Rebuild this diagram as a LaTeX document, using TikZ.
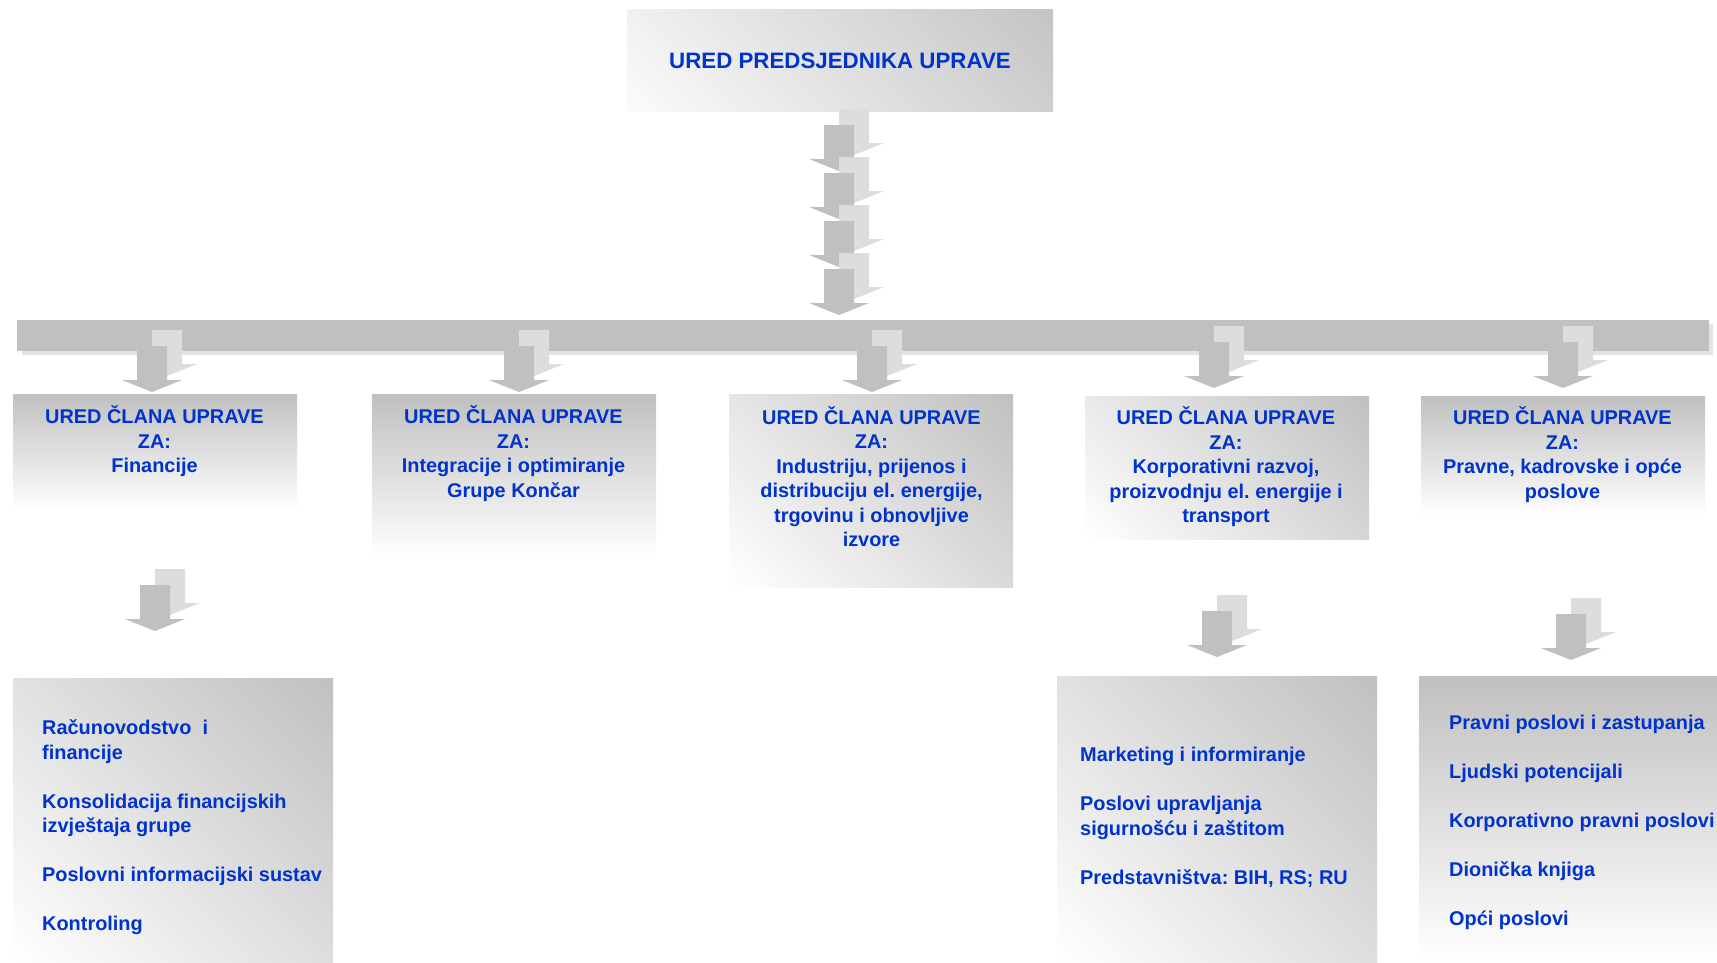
\documentclass[tikz,border=0pt]{standalone}
\usepackage{fontspec}
\setmainfont{Liberation Sans}
\usetikzlibrary{calc}
\frenchspacing
\definecolor{tblue}{HTML}{0033CC}
\definecolor{boxgray}{HTML}{C0C0C0}
\definecolor{arrdark}{HTML}{C0C0C0}
\definecolor{arrlight}{HTML}{DDDDDD}
\definecolor{bargray}{HTML}{C0C0C0}
\definecolor{barshadow}{HTML}{E3E3E3}
\begin{document}
\begin{tikzpicture}[x=1pt,y=-1pt,
  vgrad/.style={top color=boxgray, bottom color=white, draw=none, inner sep=0pt, anchor=north west},
  dgrad/.style={draw=none, inner sep=0pt, anchor=north west,
    path picture={\shade[transform canvas={rotate around={45:(path picture bounding box.center)}}, left color=white, right color=boxgray]
      ([shift={(-#1/2,-#1/2-4)}]path picture bounding box.center) rectangle ++(#1,#1+8);}},
  headtext/.style={text=tblue, font=\bfseries\fontsize{19.9}{24.5}\selectfont, align=center, anchor=base, inner sep=0pt},
  listtext/.style={text=tblue, font=\bfseries\fontsize{19.9}{24.5}\selectfont, align=left, anchor=base west, inner sep=0pt},
  blockarrow/.pic={
    \fill[arrlight] (15,-16) -- (-15,-28) -- (0,-28) -- (0,-62) -- (30,-62) -- (30,-28) -- (45,-28) -- cycle;
    \fill[arrdark] (0,0) -- (-30,-12) -- (-15,-12) -- (-15,-46) -- (15,-46) -- (15,-12) -- (30,-12) -- cycle;
  }]
\useasboundingbox (0,0) rectangle (1717,962);

% top box
\node[dgrad=373.4, minimum width=426pt, minimum height=102pt] (top) at (627,9) {};
\node[text=tblue, font=\bfseries\fontsize{22.3}{26}\selectfont, anchor=base, inner sep=0pt] (toptext) at (840,68) {URED PREDSJEDNIKA UPRAVE};

% stack of arrows below top box
\pic (s1) at (839,171) {blockarrow};
\pic (s2) at (839,219) {blockarrow};
\pic (s3) at (839,267) {blockarrow};
\pic (s4) at (839,315) {blockarrow};

% horizontal bar with shadow
\node[fill=barshadow, draw=none, inner sep=0pt, anchor=north west, minimum width=1691pt, minimum height=31pt] (barsh) at (22,324) {};
\node[fill=bargray, draw=none, inner sep=0pt, anchor=north west, minimum width=1692pt, minimum height=31pt] (bar) at (17,320) {};

% arrows from bar to boxes
\pic (a1) at (152,392) {blockarrow};
\pic (a2) at (519,392) {blockarrow};
\pic (a3) at (872,392) {blockarrow};
\pic (a4) at (1214,388) {blockarrow};
\pic (a5) at (1563,388) {blockarrow};

% member boxes
\node[vgrad, minimum width=284pt, minimum height=115pt] (b1) at (13,394) {};
\node[vgrad, minimum width=284pt, minimum height=164pt] (b2) at (372,394) {};
\node[dgrad=337.3, minimum width=284pt, minimum height=193pt] (b3) at (729,394) {};
\node[dgrad=302, minimum width=284pt, minimum height=143pt] (b4) at (1085,396) {};
\node[vgrad, minimum width=284pt, minimum height=119pt] (b5) at (1421,396) {};

% (base anchor = baseline of the last line)
\node[headtext] (t1) at (154.5,472.5) {URED ČLANA UPRAVE\\ZA:\\Financije};
\node[headtext] (t2) at (513.5,497) {URED ČLANA UPRAVE\\ZA:\\Integracije i optimiranje\\Grupe Končar};
\node[headtext] (t3) at (871.5,546.5) {URED ČLANA UPRAVE\\ZA:\\Industriju, prijenos i\\distribuciju el. energije,\\trgovinu i obnovljive\\izvore};
\node[headtext] (t4) at (1226,522.5) {URED ČLANA UPRAVE\\ZA:\\Korporativni razvoj,\\proizvodnju el. energije i\\transport};
\node[headtext] (t5) at (1562.5,498) {URED ČLANA UPRAVE\\ZA:\\Pravne, kadrovske i opće\\poslove};

% arrows to lower boxes
\pic (l1) at (155,631) {blockarrow};
\pic (l4) at (1217,657) {blockarrow};
\pic (l5) at (1571,660) {blockarrow};

% lower boxes
\node[dgrad=427.1, minimum width=320pt, minimum height=284pt] (c1) at (13,678) {};
\node[dgrad=428.5, minimum width=320pt, minimum height=286pt] (c4) at (1057,676) {};
\node[vgrad, minimum width=298pt, minimum height=286pt] (c5) at (1419,676) {};

\node[listtext] (u1) at (42,930.5) {Računovodstvo~ i\\financije\\[24.5pt]Konsolidacija financijskih\\izvještaja grupe\\[24.5pt]Poslovni informacijski sustav\\[24.5pt]Kontroling};
\node[listtext] (u4) at (1080,884) {Marketing i informiranje\\[24.5pt]Poslovi upravljanja\\sigurnošću i zaštitom\\[24.5pt]Predstavništva: BIH, RS; RU};
\node[listtext] (u5) at (1449,925.5) {Pravni poslovi i zastupanja\\[24.5pt]Ljudski potencijali\\[24.5pt]Korporativno pravni poslovi\\[24.5pt]Dionička knjiga\\[24.5pt]Opći poslovi};
\end{tikzpicture}
\end{document}
